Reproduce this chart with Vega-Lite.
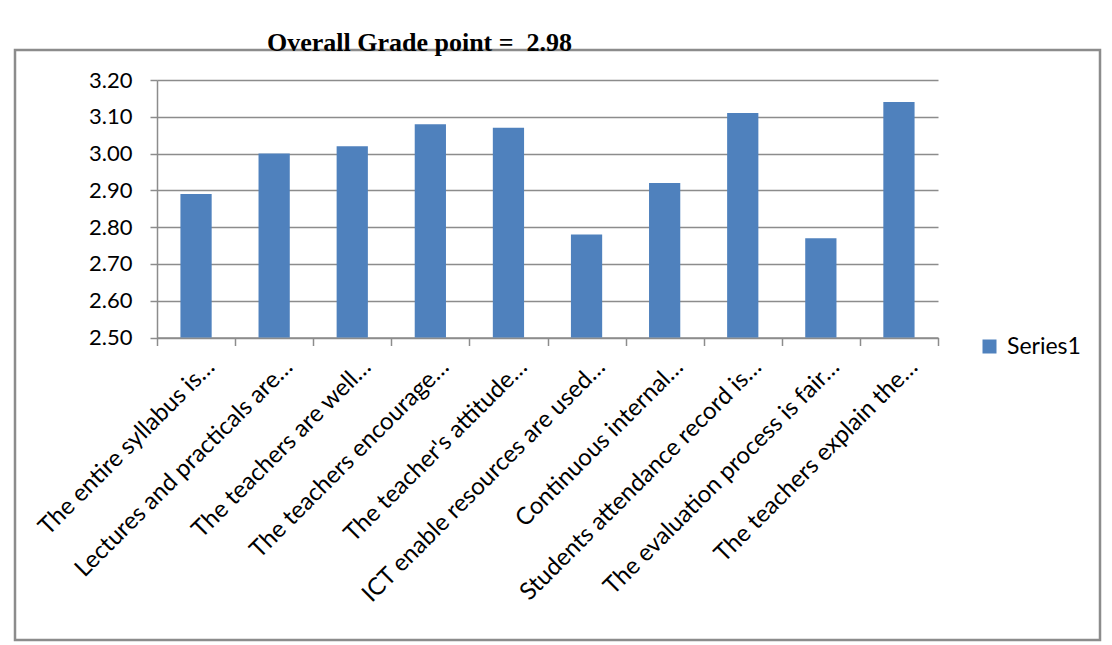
{
  "$schema": "https://vega.github.io/schema/vega-lite/v6.json",
  "width": 1085,
  "height": 590,
  "autosize": {"type": "none"},
  "padding": {"left": 15, "top": 50, "right": 12, "bottom": 5},
  "background": "white",
  "title": {
    "text": "Overall Grade point = \u00a02.98",
    "font": "Liberation Serif",
    "fontSize": 26,
    "fontWeight": "bold",
    "color": "black",
    "anchor": "middle",
    "dx": -138,
    "dy": 27,
    "baseline": "alphabetic",
    "offset": 0
  },
  "config": {"view": {"stroke": "#8C8C8C", "strokeWidth": 2.5}},
  "data": {
    "values": [
      {"q": "The entire syllabus is…", "v": 2.89, "s": "Series1"},
      {"q": "Lectures and practicals are…", "v": 3.00, "s": "Series1"},
      {"q": "The teachers are well…", "v": 3.02, "s": "Series1"},
      {"q": "The teachers encourage…", "v": 3.08, "s": "Series1"},
      {"q": "The teacher's attitude…", "v": 3.07, "s": "Series1"},
      {"q": "ICT enable resources are used…", "v": 2.78, "s": "Series1"},
      {"q": "Continuous internal…", "v": 2.92, "s": "Series1"},
      {"q": "Students attendance record is…", "v": 3.11, "s": "Series1"},
      {"q": "The evaluation process is fair…", "v": 2.77, "s": "Series1"},
      {"q": "The teachers explain the…", "v": 3.14, "s": "Series1"}
    ]
  },
  "mark": {"type": "bar", "width": {"band": 0.4}},
  "encoding": {
    "x": {
      "field": "q",
      "type": "nominal",
      "sort": null,
      "scale": {"range": [142, 923], "paddingInner": 0, "paddingOuter": 0},
      "axis": {
        "title": null,
        "orient": "bottom",
        "offset": -302.5,
        "tickBand": "extent",
        "labelAngle": -45,
        "labelFont": "Lato",
        "labelFontSize": 24,
        "labelColor": "black",
        "labelLimit": 0,
        "labelPadding": 9,
        "labelOffset": 6,
        "tickSize": 8,
        "tickWidth": 1.5,
        "tickColor": "#8C8C8C",
        "domainColor": "#8C8C8C",
        "domainWidth": 1.5,
        "grid": false
      }
    },
    "y": {
      "field": "v",
      "type": "quantitative",
      "scale": {"domain": [2.5, 3.2], "range": [287.5, 30], "zero": false, "nice": false},
      "axis": {
        "title": null,
        "offset": -142,
        "values": [2.5, 2.6, 2.7, 2.8, 2.9, 3.0, 3.1, 3.2],
        "format": ".2f",
        "grid": true,
        "gridColor": "#8C8C8C",
        "gridWidth": 1.5,
        "tickSize": 7,
        "tickWidth": 1.5,
        "tickColor": "#8C8C8C",
        "domainColor": "#8C8C8C",
        "domainWidth": 1.5,
        "labelFont": "Lato",
        "labelFontSize": 22,
        "labelColor": "black",
        "labelPadding": 18
      }
    },
    "y2": {"datum": 2.5},
    "color": {
      "field": "s",
      "type": "nominal",
      "scale": {"range": ["#4F81BD"]},
      "legend": {
        "title": null,
        "orient": "none",
        "legendX": 963,
        "legendY": 285,
        "symbolType": "square",
        "symbolSize": 196,
        "symbolStrokeWidth": 0,
        "labelFont": "Lato",
        "labelFontSize": 23,
        "labelColor": "black",
        "labelOffset": 6
      }
    }
  }
}
